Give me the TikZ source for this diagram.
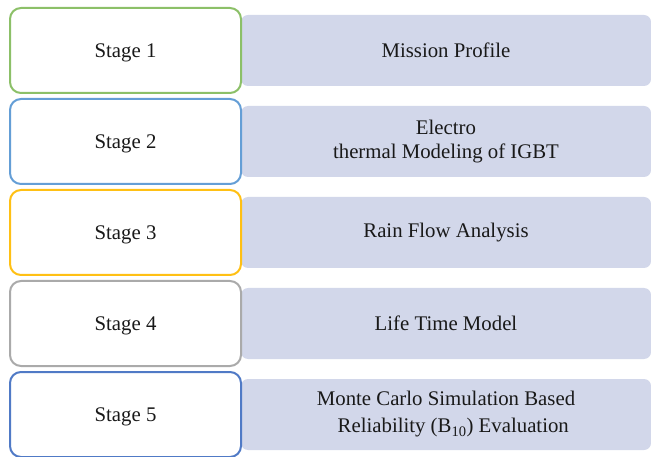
\documentclass[tikz,border=0pt]{standalone}
\usepackage{fontspec}
\setmainfont{Liberation Serif}
\usetikzlibrary{positioning}

\definecolor{verde}{RGB}{140,192,104}
\definecolor{azzurro}{RGB}{100,158,214}
\definecolor{giallo}{RGB}{255,192,20}
\definecolor{grigio}{RGB}{170,170,170}
\definecolor{blu}{RGB}{80,122,198}
\definecolor{lavanda}{RGB}{210,215,234}

\begin{document}
\begin{tikzpicture}[x=1pt, y=-1pt, line width=2pt,
    fase/.style={fill=white, rounded corners=11pt, minimum width=231pt,
        minimum height=85pt, inner sep=0pt, text=black!90, text depth=0pt,
        font=\fontsize{20.8}{25}\selectfont},
    barra/.style={fill=lavanda, rounded corners=7pt, minimum width=410pt,
        minimum height=71pt, inner sep=0pt, align=center, text=black!90,
        font=\fontsize{20.8}{27}\selectfont}]

    % Riquadro dell'immagine (margini inclusi)
    \useasboundingbox (0, 0) rectangle (651, 457);

    % Comando \fase: #1 numero, #2 colore del bordo, #3 testo della barra
    \newcommand{\fase}[3]{
        \node[barra] (b#1) at (446, {50.5+91*(#1-1)}) {#3};
        \node[fase, draw=#2] (s#1) at (125.5, {50.5+91*(#1-1)}) {Stage #1};
    }

    % -- Le cinque fasi --
    \fase{1}{verde}{Mission Profile}
    \fase{2}{azzurro}{\raisebox{-3pt}{Electro}\\thermal Modeling of IGBT}
    \fase{3}{giallo}{Rain Flow Analysis}
    \fase{4}{grigio}{Life Time Model}
    \fase{5}{blu}{Monte Carlo Simulation Based\\\hspace*{0.7em}Reliability (B\textsubscript{10}) Evaluation}

\end{tikzpicture}
\end{document}
